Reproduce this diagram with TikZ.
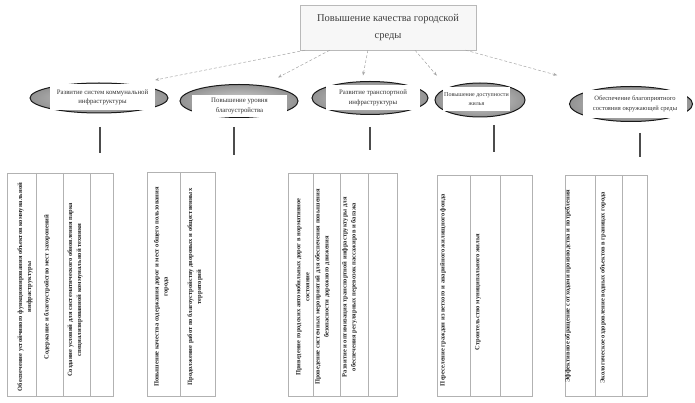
\documentclass[tikz,border=0pt]{standalone}
\usepackage{fontspec}
\setmainfont{Liberation Serif}
\usetikzlibrary{arrows.meta,calc,shapes.geometric}
\begin{document}
\begin{tikzpicture}[x=1pt,y=-1pt,
  topbox/.style={draw=gray!55, fill=gray!6, minimum width=176pt, minimum height=45pt, align=center, font=\fontsize{10.5}{17}\selectfont, text=black!75},
  oval/.style={ellipse, draw=black!90, line width=1pt, inner color=gray!35, outer color=gray!85, inner sep=0pt},
  lab/.style={fill=white, align=center, font=\fontsize{6.8}{9.5}\selectfont, text=black!80, inner sep=1.5pt},
  arr/.style={densely dashed, draw=gray!70, line width=0.5pt, -{Stealth[length=4pt,width=3pt]}},
  bar/.style={draw=black!70, line width=2.5pt},
  grid/.style={draw=gray!60, line width=0.5pt},
  celltext/.style={rotate=90, align=center, font=\fontsize{6.5}{9}\selectfont\bfseries, text=black!85, inner sep=0pt}
]
\useasboundingbox (0,0) rectangle (695,403);

% top box
\node[topbox] (top) at (388,27.5) {Повышение качества городской\\среды};

% ellipses
\node[oval, minimum width=138pt, minimum height=30pt] (e1) at (99,98) {};
\node[oval, minimum width=118pt, minimum height=33pt] (e2) at (239,101) {};
\node[oval, minimum width=116pt, minimum height=33pt] (e3) at (370,98) {};
\node[oval, minimum width=90pt, minimum height=34pt] (e4) at (480,100) {};
\node[oval, minimum width=123pt, minimum height=35pt] (e5) at (631,104) {};

\node[lab, minimum width=105pt, minimum height=26pt] (l1) at (102.5,97.5) {Развитие систем коммунальной\\инфраструктуры};
\node[lab, minimum width=95pt, minimum height=22pt] (l2) at (239.5,106) {Повышение уровня\\благоустройства};
\node[lab, minimum width=94pt, minimum height=25pt] (l3) at (373,98) {Развитие транспортной\\инфраструктуры};
\node[lab, minimum width=67pt, minimum height=24pt, font=\fontsize{6}{9}\selectfont] (l4) at (476.5,99) {Повышение доступности\\жилья};
\node[lab, minimum width=104pt, minimum height=28pt, font=\fontsize{6.5}{9.5}\selectfont] (l5) at (635,104) {Обеспечение благоприятного\\состояния окружающей среды};

% arrows
\draw[arr] ($(top.south west)!0.03!(top.south east)$) -- ($(e1.north east)+(7,-7)$);
\draw[arr] ($(top.south west)!0.17!(top.south east)$) -- ($(e2.north)+(39,-6.5)$);
\draw[arr] ($(top.south west)!0.386!(top.south east)$) -- ($(e3.north)+(-7,-5.5)$);
\draw[arr] ($(top.south west)!0.653!(top.south east)$) -- ($(e4.north west)+(-11,-12)$);
\draw[arr] ($(top.south west)!0.94!(top.south east)$) -- ($(e5.north west)+(-30,-16)$);

% bars
\coordinate (b1t) at (100,127); \coordinate (b1b) at (100,153);
\coordinate (b2t) at (234,127); \coordinate (b2b) at (234,155);
\coordinate (b3t) at (370,127); \coordinate (b3b) at (370,150);
\coordinate (b4t) at (494,125); \coordinate (b4b) at (494,152);
\coordinate (b5t) at (640,133); \coordinate (b5b) at (640,157);
\draw[bar] (b1t) -- (b1b);
\draw[bar] (b2t) -- (b2b);
\draw[bar] (b3t) -- (b3b);
\draw[bar] (b4t) -- (b4b);
\draw[bar] (b5t) -- (b5b);

% table 1
\draw[grid] (7,173) rectangle (113,396);
\foreach \x in {36,63,90} \draw[grid] (\x,173) -- (\x,396);
\node[celltext] (t11) at (25,287) {Обеспечение устойчивого функционирования объектов коммунальной\\инфраструктуры};
\node[celltext] (t12) at (47,287) {Содержание и благоустройство мест захоронений};
\node[celltext] (t13) at (75,290) {Создание условий для систематического обновления парка\\специализированной коммунальной техники};

% table 2
\draw[grid] (147,172) rectangle (215,396);
\draw[grid] (180,172) -- (180,396);
\node[celltext] (t21) at (161.5,287) {Повышение качества содержания дорог и мест общего пользования\\города};
\node[celltext] (t22) at (195,287) {Продолжение работ по благоустройству дворовых и общественных\\территорий};

% table 3
\draw[grid] (288,173) rectangle (397,396);
\foreach \x in {313,340,368} \draw[grid] (\x,173) -- (\x,396);
\node[celltext] (t31) at (302.5,287) {Приведение городских автомобильных дорог в нормативное\\состояние};
\node[celltext] (t32) at (322.5,287) {Проведение системных мероприятий для обеспечения повышения\\безопасности дорожного движения};
\node[celltext] (t33) at (349.5,287) {Развитие и оптимизация транспортной инфраструктуры для\\обеспечения регулярных перевозок пассажиров и багажа};

% table 4
\draw[grid] (437,175) rectangle (532,396);
\foreach \x in {470,500} \draw[grid] (\x,175) -- (\x,396);
\node[celltext] (t41) at (443,290) {Переселение граждан из ветхого и аварийного жилищного фонда};
\node[celltext] (t42) at (478,292) {Строительство муниципального жилья};

% table 5
\draw[grid] (565,175) rectangle (647,396);
\foreach \x in {595,622} \draw[grid] (\x,175) -- (\x,396);
\node[celltext] (t51) at (568,286) {Эффективное обращение с отходами производства и потребления};
\node[celltext] (t52) at (603,288) {Экологическое оздоровление водных объектов в границах города};
\end{tikzpicture}
\end{document}
